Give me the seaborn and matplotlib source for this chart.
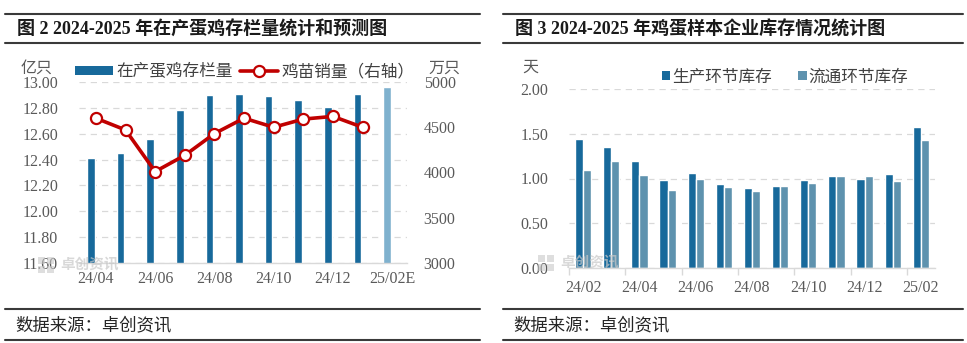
import numpy as np
import pandas as pd
import matplotlib
matplotlib.use("Agg")
import matplotlib.pyplot as plt
from matplotlib.patches import Patch, Rectangle
from matplotlib.lines import Line2D
import seaborn as sns

# ---- 图2：在产蛋鸡存栏量（亿只）与鸡苗销量（万只，右轴）----
layer_months = ["24/04", "24/05", "24/06", "24/07", "24/08", "24/09",
                "24/10", "24/11", "24/12", "25/01", "25/02E"]
layer_stock = [12.41, 12.45, 12.56, 12.78, 12.90, 12.91, 12.89, 12.86, 12.81, 12.91, 12.96]
layer_kind = ["实际"] * 10 + ["预测"]
chick_sales = [4600, 4470, 4010, 4190, 4430, 4600, 4500, 4590, 4620, 4500]
layer_tick_labels = ["24/04", "24/06", "24/08", "24/10", "24/12", "25/02E"]
left_yticks = [11.60, 11.80, 12.00, 12.20, 12.40, 12.60, 12.80, 13.00]
right_yticks = [3000, 3500, 4000, 4500, 5000]

# ---- 图3：鸡蛋样本企业库存（天）----
inv_months = ["24/02", "24/03", "24/04", "24/05", "24/06", "24/07", "24/08",
              "24/09", "24/10", "24/11", "24/12", "25/01", "25/02"]
production_inv = [1.44, 1.35, 1.20, 0.98, 1.06, 0.94, 0.89, 0.92, 0.98, 1.03, 1.00, 1.05, 1.58]
circulation_inv = [1.09, 1.19, 1.04, 0.87, 1.00, 0.90, 0.86, 0.92, 0.95, 1.03, 1.03, 0.97, 1.43]
inv_tick_labels = ["24/02", "24/04", "24/06", "24/08", "24/10", "24/12", "25/02"]
inv_yticks = [0.0, 0.5, 1.0, 1.5, 2.0]

DARK = "#17699b"
STEEL = "#5e92ae"
FORECAST = "#7fb1ce"
RED = "#c00000"
GRID = "#d9d9d9"
TICK = "#595959"
RULE = "#3a3a3a"
MARK = "#c8c8c8"

sns.set_theme(style="white")
plt.rcParams["font.family"] = ["Noto Sans CJK SC", "DejaVu Sans"]
NUM_FONT = ["Liberation Serif", "Noto Sans CJK SC"]

W, H = 967, 343
fig = plt.figure(figsize=(W / 100, H / 100), dpi=100)


def fx(px):
    return px / W


def fy(py):
    return 1 - py / H


def style_numbers(ax, size=11.5):
    for lab in ax.get_xticklabels() + ax.get_yticklabels():
        lab.set_fontfamily(NUM_FONT)
        lab.set_fontsize(size)
        lab.set_color(TICK)


def panel_frame(x0, x1, title):
    for y in (14, 43, 309, 340):
        fig.add_artist(Line2D([fx(x0), fx(x1)], [fy(y), fy(y)], color=RULE, lw=1.5))
    fig.text(fx(x0 + 12), fy(29), title, fontsize=13, fontweight="bold",
             family=["Liberation Serif", "Noto Sans CJK SC"], va="center", ha="left", color="#1a1a1a")
    fig.text(fx(x0 + 10), fy(325), "数据来源：卓创资讯", fontsize=12.5,
             va="center", ha="left", color="#262626")


def watermark(x, y):
    # faint company logo: a small grid of squares followed by the name
    for i in range(2):
        for j in range(2):
            fig.add_artist(Rectangle((fx(x + i * 9), fy(y + 2 + j * 9)), 7 / W, 7 / H,
                                     facecolor=MARK, edgecolor="none", alpha=0.6))
    fig.text(fx(x + 22), fy(y + 1), "卓创资讯", fontsize=10.5, color=MARK, alpha=0.7,
             va="center", ha="left", fontweight="bold")


# ================= 左图 =================
ax = fig.add_axes([fx(79), fy(263), fx(407 - 79), (263 - 82) / H])
idx = np.arange(len(layer_months))
bar_df = pd.DataFrame({"pos": idx - 0.17, "stock": layer_stock, "kind": layer_kind})
sns.barplot(data=bar_df, x="pos", y="stock", hue="kind", native_scale=True,
            palette={"实际": DARK, "预测": FORECAST}, width=0.26, dodge=False,
            legend=False, ax=ax, saturation=1, zorder=2)
ax.set_ylim(11.60, 13.00)
ax.set_yticks(left_yticks)
ax.set_yticklabels([f"{v:.2f}" for v in left_yticks])
ax.yaxis.grid(True, color=GRID, linestyle=(0, (5, 4)), linewidth=0.9, zorder=0)
ax.set_axisbelow(True)
ax.set_xlabel("")
ax.set_ylabel("")

ax2 = ax.twinx()
line_df = pd.DataFrame({"pos": idx[:len(chick_sales)], "sales": chick_sales})
sns.lineplot(data=line_df, x="pos", y="sales", ax=ax2, color=RED, linewidth=2.6,
             marker="o", markersize=8, markerfacecolor="white",
             markeredgecolor=RED, markeredgewidth=1.6, zorder=5)
ax2.set_ylim(3000, 5000)
ax2.set_yticks(right_yticks)
ax2.set_yticklabels([str(v) for v in right_yticks])
ax2.set_xlabel("")
ax2.set_ylabel("")
ax2.grid(False)

ax.set_xlim(-0.57, 10.5)
ax.set_xticks(idx[::2])
ax.set_xticklabels(layer_tick_labels)
for a in (ax, ax2):
    for s in a.spines.values():
        s.set_visible(False)
ax.spines["bottom"].set_visible(True)
ax.spines["bottom"].set_color(GRID)
ax.spines["bottom"].set_linewidth(1.0)
ax.tick_params(axis="x", length=0, pad=6)
ax.tick_params(axis="y", length=0, pad=15)
ax2.tick_params(axis="y", length=0, pad=12)
style_numbers(ax)
style_numbers(ax2)

fig.text(fx(37), fy(68), "亿只", fontsize=11.5, color=TICK, ha="center", va="center")
fig.text(fx(444), fy(68), "万只", fontsize=11.5, color=TICK, ha="center", va="center")

left_handles = [
    Patch(facecolor=DARK, edgecolor="none", label="在产蛋鸡存栏量"),
    Line2D([0], [0], color=RED, lw=2.6, marker="o", markersize=8,
           markerfacecolor="white", markeredgecolor=RED, markeredgewidth=1.6,
           label="鸡苗销量（右轴）"),
]
ax.legend(handles=left_handles, loc="center", bbox_to_anchor=(0.505, 1.058), ncol=2,
          frameon=False, fontsize=12, handlelength=2.3, handleheight=0.45,
          handletextpad=0.2, columnspacing=0.4, borderpad=0, labelcolor="#404040")

panel_frame(5, 480, "图 2 2024-2025 年在产蛋鸡存栏量统计和预测图")
watermark(38, 262)

# ================= 右图 =================
ax3 = fig.add_axes([fx(569), fy(268), fx(935 - 569), (268 - 89) / H])
inv_df = pd.DataFrame({
    "month": inv_months * 2,
    "days": production_inv + circulation_inv,
    "stage": ["生产环节库存"] * len(inv_months) + ["流通环节库存"] * len(inv_months),
})
sns.barplot(data=inv_df, x="month", y="days", hue="stage", order=inv_months,
            palette=[DARK, STEEL], width=0.58, gap=0, saturation=1,
            legend=False, ax=ax3, zorder=2)
ax3.set_ylim(0, 2.0)
ax3.set_yticks(inv_yticks)
ax3.set_yticklabels([f"{v:.2f}" for v in inv_yticks])
ax3.yaxis.grid(True, color=GRID, linestyle=(0, (5, 4)), linewidth=0.9, zorder=0)
ax3.set_axisbelow(True)
ax3.set_xlim(-0.5, len(inv_months) - 0.5)
ax3.set_xticks(np.arange(0, len(inv_months), 2))
ax3.set_xticklabels(inv_tick_labels)
ax3.set_xticks(np.arange(-0.5, len(inv_months), 2), minor=True)
ax3.set_xlabel("")
ax3.set_ylabel("")
for s in ax3.spines.values():
    s.set_visible(False)
ax3.spines["bottom"].set_visible(True)
ax3.spines["bottom"].set_color(GRID)
ax3.spines["bottom"].set_linewidth(1.0)
ax3.tick_params(axis="x", which="major", length=0, pad=9)
ax3.tick_params(axis="x", which="minor", bottom=True, length=5, width=1.0, color=GRID)
ax3.tick_params(axis="y", length=0, pad=15)
style_numbers(ax3)

fig.text(fx(530), fy(67), "天", fontsize=11.5, color=TICK, ha="center", va="center")

right_handles = [
    Patch(facecolor=DARK, edgecolor="none", label="生产环节库存"),
    Patch(facecolor=STEEL, edgecolor="none", label="流通环节库存"),
]
ax3.legend(handles=right_handles, loc="center", bbox_to_anchor=(0.59, 1.067), ncol=2,
           frameon=False, fontsize=12, handlelength=0.5, handleheight=0.5,
           handletextpad=0.1, columnspacing=1.6, borderpad=0, labelcolor="#404040")

panel_frame(503, 963, "图 3 2024-2025 年鸡蛋样本企业库存情况统计图")
watermark(538, 260)

fig.savefig("out.png", dpi=100, facecolor="white")
